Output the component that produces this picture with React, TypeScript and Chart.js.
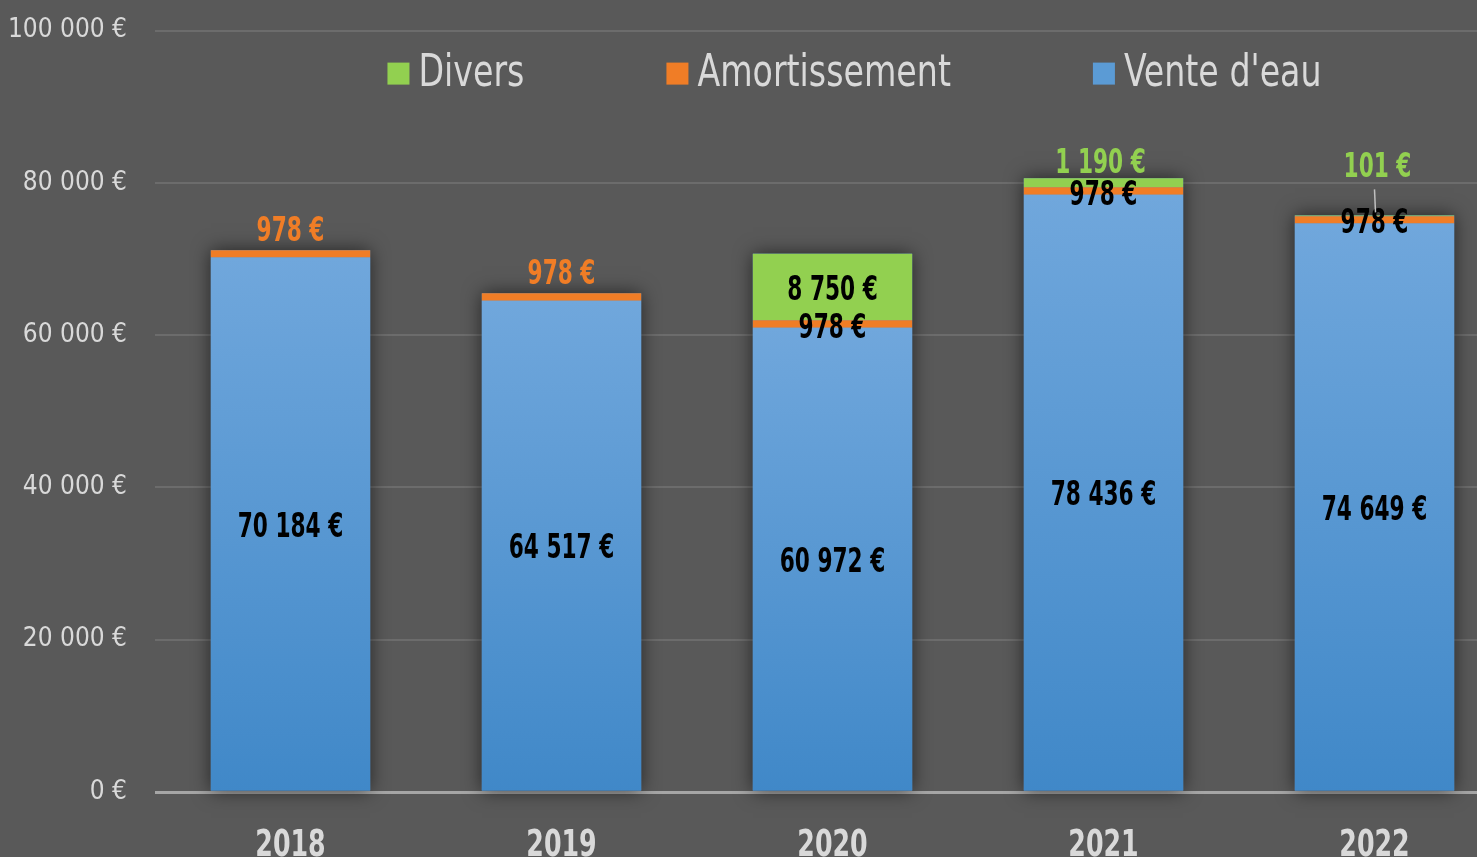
import { useEffect, useRef } from 'react';
import { Chart, registerables } from 'chart.js';

Chart.register(...registerables);

const categories = ['2018', '2019', '2020', '2021', '2022'];
const venteDeau = [70184, 64517, 60972, 78436, 74649];
const amortissement = [978, 978, 978, 978, 978];
const divers: (number | null)[] = [null, null, 8750, 1190, 101];
const seriesNames = ["Vente d'eau", 'Amortissement', 'Divers'];
const yMin = 0;
const yMax = 100000;
const yStep = 20000;

const FONT = "'DejaVu Sans Condensed', 'DejaVu Sans', sans-serif";
const BG = '#595959';
const TXT = '#d9d9d9';
const ORANGE = '#f07d26';
const GREEN = '#92d050';
const BLUE = '#5b9bd5';
const CANVAS_SHIFT = 13;

const fmt = (v: number) => String(Math.round(v)).replace(/\B(?=(\d{3})+(?!\d))/g, ' ') + ' €';

const drawNarrow = (ctx: any, text: string, x: number, y: number, sx: number) => {
  ctx.save();
  ctx.translate(x, y);
  ctx.scale(sx, 1);
  ctx.fillText(text, 0, 0);
  ctx.restore();
};

const blueGradient = (c: any) => {
  const chart = c.chart;
  const ys = chart.scales?.y;
  if (!ys || c.raw == null) return BLUE;
  const top = ys.getPixelForValue(c.raw);
  const bottom = ys.getPixelForValue(0);
  if (!isFinite(top) || !isFinite(bottom) || top === bottom) return BLUE;
  const g = chart.ctx.createLinearGradient(0, top, 0, bottom);
  g.addColorStop(0, '#70a7dc');
  g.addColorStop(1, '#4088c8');
  return g;
};

const shadowPlugin = {
  id: 'stackShadow',
  beforeDatasetsDraw(chart: any) {
    const ctx = chart.ctx;
    const n = chart.data.labels.length;
    ctx.save();
    ctx.shadowColor = 'rgba(0,0,0,0.6)';
    ctx.shadowBlur = 18;
    ctx.fillStyle = BLUE;
    for (let i = 0; i < n; i++) {
      let top = Infinity;
      let base = -Infinity;
      let x = 0;
      let w = 0;
      chart.data.datasets.forEach((_d: any, di: number) => {
        const el = chart.getDatasetMeta(di).data[i];
        if (!el || chart.data.datasets[di].data[i] == null) return;
        top = Math.min(top, el.y);
        base = Math.max(base, el.base);
        x = el.x;
        w = el.width;
      });
      if (isFinite(top)) ctx.fillRect(x - w / 2, top, w, base - top);
    }
    ctx.restore();
  },
};

const labelPlugin = {
  id: 'barLabels',
  afterDatasetsDraw(chart: any) {
    const ctx = chart.ctx;
    ctx.save();
    ctx.font = `bold 33px ${FONT}`;
    ctx.textAlign = 'center';
    ctx.textBaseline = 'middle';
    const sx = 0.73;
    const dy = 4;
    const n = chart.data.labels.length;
    for (let i = 0; i < n; i++) {
      const vEl = chart.getDatasetMeta(0).data[i];
      const aEl = chart.getDatasetMeta(1).data[i];
      const dEl = chart.getDatasetMeta(2).data[i];
      const vVal = chart.data.datasets[0].data[i];
      const aVal = chart.data.datasets[1].data[i];
      const dVal = chart.data.datasets[2].data[i];
      if (vVal != null) {
        ctx.fillStyle = '#000';
        drawNarrow(ctx, fmt(vVal), vEl.x, (vEl.y + vEl.base) / 2 + dy, sx);
      }
      if (aVal != null) {
        if (dVal == null) {
          ctx.fillStyle = ORANGE;
          drawNarrow(ctx, fmt(aVal), aEl.x, aEl.y - 22 + dy, sx);
        } else {
          ctx.fillStyle = '#000';
          drawNarrow(ctx, fmt(aVal), aEl.x, (aEl.y + aEl.base) / 2 + 1 + dy, sx);
        }
      }
      if (dVal != null) {
        const h = dEl.base - dEl.y;
        if (h > 40) {
          ctx.fillStyle = '#000';
          drawNarrow(ctx, fmt(dVal), dEl.x, (dEl.y + dEl.base) / 2 + dy, sx);
        } else if (h < 3) {
          const ly = dEl.y - 51;
          ctx.fillStyle = GREEN;
          drawNarrow(ctx, fmt(dVal), dEl.x + 3, ly + dy, sx);
          ctx.strokeStyle = '#bfbfbf';
          ctx.lineWidth = 1.5;
          ctx.beginPath();
          ctx.moveTo(dEl.x, ly + 25);
          ctx.lineTo(dEl.x + 1, dEl.y - 3);
          ctx.stroke();
        } else {
          ctx.fillStyle = GREEN;
          drawNarrow(ctx, fmt(dVal), dEl.x - 3, dEl.y - 18 + dy, sx);
        }
      }
    }
    // category labels
    const xs = chart.scales.x;
    ctx.font = `bold 37px ${FONT}`;
    ctx.fillStyle = TXT;
    chart.data.labels.forEach((lab: string, i: number) => {
      drawNarrow(ctx, lab, xs.getPixelForTick(i), xs.top + 54, 0.76);
    });
    ctx.restore();
  },
};

const legendPlugin = {
  id: 'customLegend',
  afterDraw(chart: any) {
    const ctx = chart.ctx;
    const area = chart.chartArea;
    ctx.save();
    ctx.font = `44px ${FONT}`;
    ctx.textBaseline = 'middle';
    ctx.textAlign = 'left';
    const sx = 0.84;
    const items = [...chart.data.datasets].reverse();
    const box = 22;
    const gapText = 9;
    const gapItem = 142;
    const widths = items.map((d: any) => box + gapText + ctx.measureText(d.label).width * sx);
    const total = widths.reduce((a: number, b: number) => a + b, 0) + gapItem * (items.length - 1);
    let x = (area.left + area.right) / 2 + 22 - total / 2;
    const cy = area.top + 43;
    items.forEach((d: any, i: number) => {
      ctx.fillStyle = d.legendColor;
      ctx.fillRect(x, cy - box / 2, box, box);
      ctx.fillStyle = TXT;
      drawNarrow(ctx, d.label, x + box + gapText, cy + 1, sx);
      x += widths[i] + gapItem;
    });
    ctx.restore();
  },
};

export default function App() {
  const ref = useRef<HTMLCanvasElement | null>(null);
  useEffect(() => {
    if (!ref.current) return;
    const chart = new Chart(ref.current, {
      type: 'bar',
      data: {
        labels: categories,
        datasets: [
          { label: seriesNames[0], data: venteDeau, backgroundColor: blueGradient, legendColor: BLUE } as any,
          { label: seriesNames[1], data: amortissement, backgroundColor: ORANGE, legendColor: ORANGE } as any,
          { label: seriesNames[2], data: divers, backgroundColor: GREEN, legendColor: GREEN } as any,
        ],
      },
      options: {
        responsive: false,
        animation: false,
        devicePixelRatio: 1,
        datasets: { bar: { barPercentage: 0.588, categoryPercentage: 1, borderWidth: 0 } },
        layout: { padding: { top: 14, left: 0, right: 0, bottom: 0 } },
        plugins: { legend: { display: false }, tooltip: { enabled: false }, title: { display: false } },
        scales: {
          x: {
            stacked: true,
            grid: { display: false, drawTicks: false },
            border: { display: false },
            ticks: { display: false },
            afterFit: (s: any) => { s.height = 88; },
          },
          y: {
            stacked: true,
            min: yMin,
            max: yMax,
            ticks: {
              stepSize: yStep,
              color: TXT,
              font: { family: FONT, size: 26 },
              padding: 28,
              callback: (v: any) => fmt(Number(v)),
            },
            grid: {
              drawTicks: false,
              color: (c: any) => (c.tick && c.tick.value === 0 ? '#a6a6a6' : '#6c6c6c'),
              lineWidth: (c: any) => (c.tick && c.tick.value === 0 ? 3 : 2),
            },
            border: { display: false },
            afterFit: (s: any) => { s.width = 155; },
          },
        },
      },
      plugins: [shadowPlugin, labelPlugin, legendPlugin],
    } as any);
    return () => chart.destroy();
  }, []);
  return (
    <div style={{ position: 'fixed', left: 0, top: 0, width: 1477, height: 857, overflow: 'hidden', background: BG }}>
      <canvas ref={ref} width={1510} height={893} style={{ display: 'block', marginTop: -CANVAS_SHIFT }} />
    </div>
  );
}
